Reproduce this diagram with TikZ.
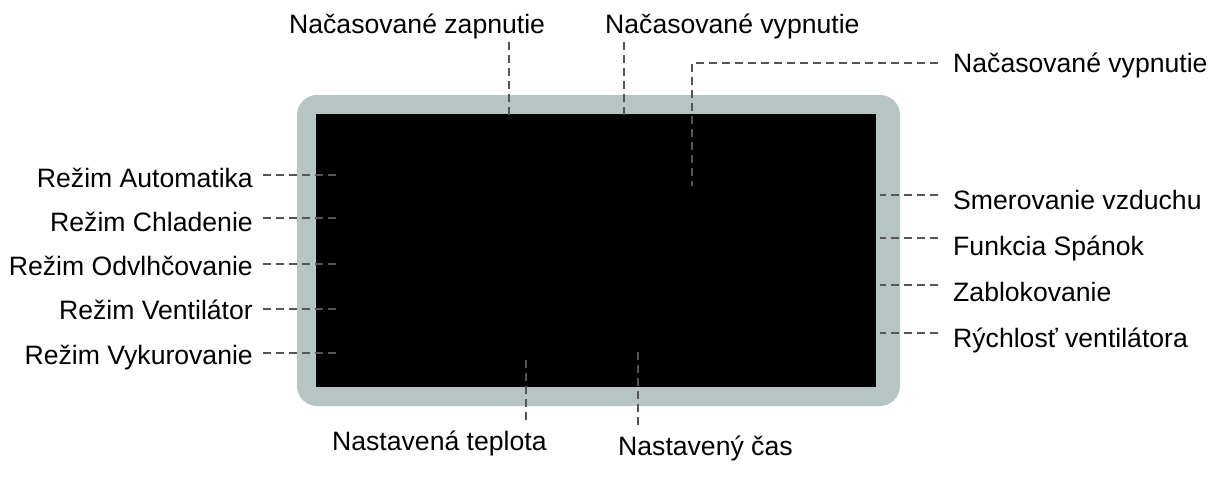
\documentclass[tikz,border=0pt]{standalone}
\usepackage{fontspec}
\setmainfont{Liberation Sans}
\definecolor{framegray}{RGB}{182,196,196}
\definecolor{leadgray}{RGB}{85,85,85}
\begin{document}
\begin{tikzpicture}[x=1pt,y=-1pt,
  lbl/.style={inner sep=0pt, font=\fontsize{26.6}{30}\selectfont},
  leader/.style={draw=leadgray, line width=1.8pt, dash pattern=on 8pt off 5pt}]
\useasboundingbox (0,0) rectangle (1210,477);
% display frame
\fill[framegray, rounded corners=20pt] (297,95) rectangle (900,406);
\fill[black] (316,114) rectangle (876,387);
% top labels
\node[lbl, anchor=base west] (tz) at (289,33) {Načasované zapnutie};
\node[lbl, anchor=base west] (tv) at (605,33) {Načasované vypnutie};
\node[lbl, anchor=base west] (rv) at (953,72) {Načasované vypnutie};
\coordinate (tza) at (509,42); \coordinate (tzb) at (509,115);
\coordinate (tva) at (624,42); \coordinate (tvb) at (624,115);
\coordinate (rva) at (938,63); \coordinate (rvb) at (692,186);
\draw[leader] (tza) -- (tzb);
\draw[leader] (tva) -- (tvb);
\draw[leader] (rva) -| (rvb);
% left labels
\node[lbl, anchor=base east] (l1) at (253,187) {Režim Automatika};
\node[lbl, anchor=base east] (l2) at (253,231) {Režim Chladenie};
\node[lbl, anchor=base east] (l3) at (253,275) {Režim Odvlhčovanie};
\node[lbl, anchor=base east] (l4) at (253,319) {Režim Ventilátor};
\node[lbl, anchor=base east] (l5) at (253,364) {Režim Vykurovanie};
\coordinate (l1a) at (263,175); \coordinate (l1b) at (340,175);
\coordinate (l2a) at (263,218); \coordinate (l2b) at (340,218);
\coordinate (l3a) at (263,264); \coordinate (l3b) at (340,264);
\coordinate (l4a) at (263,309); \coordinate (l4b) at (340,309);
\coordinate (l5a) at (263,353); \coordinate (l5b) at (340,353);
\draw[leader] (l1a) -- (l1b);
\draw[leader] (l2a) -- (l2b);
\draw[leader] (l3a) -- (l3b);
\draw[leader] (l4a) -- (l4b);
\draw[leader] (l5a) -- (l5b);
% right labels
\node[lbl, anchor=base west] (r1) at (953,209) {Smerovanie vzduchu};
\node[lbl, anchor=base west] (r2) at (953,255) {Funkcia Spánok};
\node[lbl, anchor=base west] (r3) at (953,301) {Zablokovanie};
\node[lbl, anchor=base west] (r4) at (953,347) {Rýchlosť ventilátora};
\coordinate (r1a) at (938,195); \coordinate (r1b) at (880,195);
\coordinate (r2a) at (938,238); \coordinate (r2b) at (880,238);
\coordinate (r3a) at (938,285); \coordinate (r3b) at (880,285);
\coordinate (r4a) at (938,333); \coordinate (r4b) at (880,333);
\draw[leader] (r1a) -- (r1b);
\draw[leader] (r2a) -- (r2b);
\draw[leader] (r3a) -- (r3b);
\draw[leader] (r4a) -- (r4b);
% bottom labels
\node[lbl, anchor=base west] (bt) at (332,450) {Nastavená teplota};
\node[lbl, anchor=base west] (bc) at (618,455) {Nastavený čas};
\coordinate (bta) at (526,420); \coordinate (btb) at (526,355);
\coordinate (bca) at (638,425); \coordinate (bcb) at (638,349);
\draw[leader] (bta) -- (btb);
\draw[leader] (bca) -- (bcb);
\end{tikzpicture}
\end{document}
